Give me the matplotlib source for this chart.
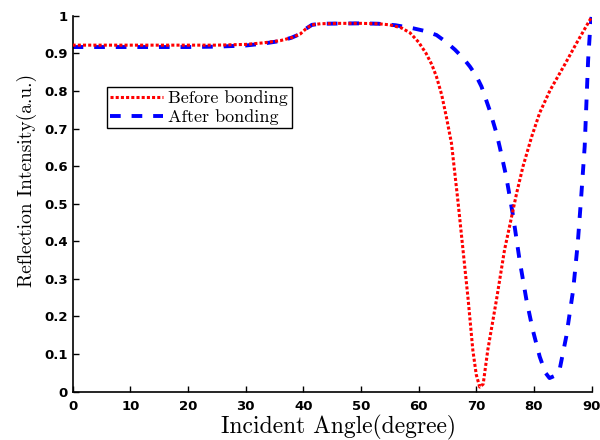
import matplotlib
matplotlib.use('Agg')
import matplotlib.pyplot as plt

# reflection curves
angle_before = [0, 5, 10, 15, 20, 25, 30, 33, 36, 38, 39.5, 40.5, 41.5, 43, 46, 50, 53, 55, 57,
                58.5, 60, 61.3, 62.3, 63.1, 64, 64.8, 65.7, 66.8, 67.7, 68.6, 69.4, 70.0, 70.6,
                71.2, 72.0, 73.5, 74.9, 77.0, 78.1, 79.6, 81.0, 82.8, 85.4, 87.3, 90]
refl_before = [0.922, 0.922, 0.922, 0.922, 0.922, 0.922, 0.924, 0.928, 0.934, 0.942, 0.952, 0.966,
               0.976, 0.979, 0.98, 0.98, 0.979, 0.976, 0.968, 0.955, 0.93, 0.90, 0.87, 0.838, 0.79,
               0.732, 0.661, 0.51, 0.377, 0.244, 0.111, 0.045, 0.012, 0.02, 0.111, 0.244, 0.377,
               0.528, 0.599, 0.678, 0.742, 0.802, 0.872, 0.925, 0.997]

angle_after = [0, 10, 20, 25, 30, 33, 36, 38, 39.5, 40.5, 41.5, 43, 50, 53, 56, 59, 61, 63.1,
               64.8, 66.3, 67.7, 68.9, 70, 70.9, 72.3, 73.5, 74.1, 75.2, 76.4, 77.5, 78.7, 79.8,
               81.0, 82, 82.7, 83.6, 84.5, 85.6, 86.8, 87.6, 88.2, 88.8, 89.1, 89.4, 89.7, 90]
refl_after = [0.917, 0.917, 0.917, 0.918, 0.921, 0.926, 0.933, 0.942, 0.952, 0.966, 0.976, 0.979,
              0.98, 0.979, 0.975, 0.967, 0.96, 0.949, 0.93, 0.91, 0.888, 0.865, 0.84, 0.812,
              0.75, 0.688, 0.649, 0.572, 0.466, 0.351, 0.244, 0.164, 0.093, 0.05, 0.036, 0.042,
              0.062, 0.146, 0.27, 0.395, 0.519, 0.652, 0.768, 0.883, 0.954, 0.997]

x_ticks = list(range(0, 91, 10))
y_ticks = [0, 0.1, 0.2, 0.3, 0.4, 0.5, 0.6, 0.7, 0.8, 0.9, 1]
y_tick_labels = ['0', '0.1', '0.2', '0.3', '0.4', '0.5', '0.6', '0.7', '0.8', '0.9', '1']

fig = plt.figure(figsize=(6, 4.4), dpi=100)
ax = fig.add_axes([0.121, 0.110, 0.865, 0.854])

ax.plot(angle_before, refl_before, color='#ff0000', linewidth=2.2,
        linestyle=(0, (1, 0.7)), label='Before bonding', zorder=3)
ax.plot(angle_after, refl_after, color='#0000ff', linewidth=2.8,
        linestyle=(0, (2.75, 2.8)), label='After bonding', zorder=2)

ax.set_xlim(0, 90)
ax.set_ylim(0, 1)
ax.set_xticks(x_ticks)
ax.set_xticklabels([str(t) for t in x_ticks])
ax.set_yticks(y_ticks)
ax.set_yticklabels(y_tick_labels)
for lab in ax.get_xticklabels() + ax.get_yticklabels():
    lab.set_fontfamily('DejaVu Sans')
    lab.set_fontweight('bold')
    lab.set_fontsize(9.5)

ax.tick_params(direction='in', length=4, width=1)
ax.tick_params(axis='x', pad=6)
ax.tick_params(axis='y', pad=3.5)
ax.spines['top'].set_visible(False)
ax.spines['right'].set_visible(False)
ax.spines['left'].set_linewidth(1.2)
ax.spines['bottom'].set_linewidth(1.2)

ax.set_xlabel('Incident Angle(degree)', fontfamily='cmr10', fontsize=17)
ax.set_ylabel('Reflection Intensity(a.u.)', fontfamily='cmr10', fontsize=14)
ax.xaxis.set_label_coords(0.513, -0.062)
ax.yaxis.set_label_coords(-0.069, 0.563)

leg = ax.legend(loc='upper left', bbox_to_anchor=(0.066, 0.811), borderaxespad=0,
                prop={'family': 'cmr10', 'size': 13}, handlelength=2.9,
                fancybox=False, framealpha=1, edgecolor='black',
                borderpad=0.2, labelspacing=0.15, handletextpad=0.3)
leg.get_frame().set_linewidth(1.0)

fig.savefig('out.png', dpi=100)
plt.close(fig)
